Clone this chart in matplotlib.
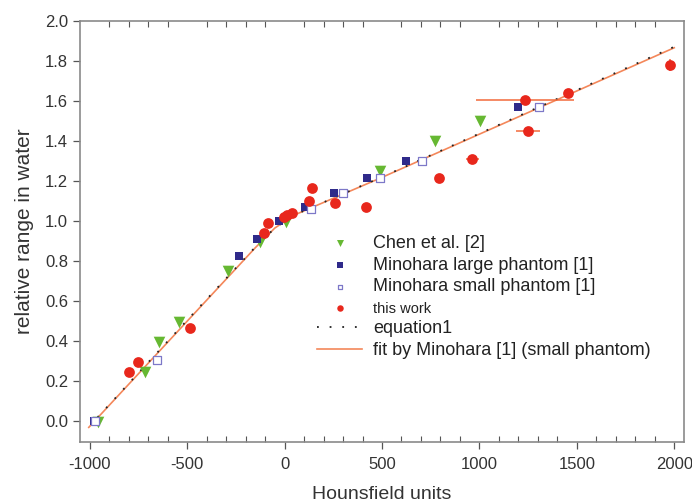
import matplotlib
matplotlib.use('Agg')
from matplotlib import pyplot as plt
from matplotlib.ticker import MultipleLocator, FormatStrFormatter

plt.rcParams['font.family'] = ['Liberation Sans', 'DejaVu Sans']
plt.rcParams['axes.unicode_minus'] = False

# Chen et al. [2]
chen_hu = [-957, -718, -646, -541, -290, -127, 6, 489, 771, 1002]
chen_r = [-0.005, 0.245, 0.395, 0.495, 0.75, 0.895, 0.995, 1.25, 1.40, 1.50]

# Minohara large phantom [1]
large_hu = [-979, -235, -144, -30, 107, 253, 424, 621, 1199]
large_r = [0.0, 0.825, 0.91, 1.0, 1.068, 1.138, 1.216, 1.301, 1.571]

# Minohara small phantom [1]
small_hu = [-975, -654, 134, 300, 492, 706, 1307]
small_r = [0.0, 0.306, 1.06, 1.138, 1.216, 1.301, 1.571]

# this work
work_hu = [-798, -750, -487, -107, -85, -4, 13, 40, 126, 141, 261, 420,
           792, 964, 1233, 1250, 1455, 1977]
work_r = [0.245, 0.296, 0.464, 0.942, 0.992, 1.021, 1.03, 1.041, 1.101, 1.166,
          1.091, 1.071, 1.216, 1.308, 1.604, 1.451, 1.64, 1.779]
work_xerr = [0, 0, 0, 0, 0, 0, 0, 0, 0, 0, 0, 0, 0, 35, 250, 60, 20, 0]
work_yerr = [0, 0, 0, 0, 0, 0, 0, 0, 0, 0, 0, 0, 0.02, 0, 0, 0, 0, 0.03]

# equation1
eq_hu = [-960, -500, -150, -50, 50, 500, 2000]
eq_r = [0.02, 0.505, 0.87, 0.965, 1.03, 1.22, 1.87]

# fit by Minohara [1] (small phantom)
fit_hu = [-1005, -500, -150, -50, 50, 500, 2000]
fit_r = [-0.03, 0.50, 0.867, 0.965, 1.03, 1.218, 1.865]

fig = plt.figure(figsize=(6.92, 5.04), dpi=100)
ax = fig.add_axes([80 / 692, 62 / 504, 604 / 692, 421.3 / 504])

ax.plot(fit_hu, fit_r, color='#f4875a', lw=1.2, zorder=2,
        label='fit by Minohara [1] (small phantom)')
ax.plot(eq_hu, eq_r, color='#222222', lw=1.3, ls=(0, (1, 6)), zorder=3,
        label='equation1')

ax.errorbar(work_hu, work_r, xerr=work_xerr, yerr=work_yerr, fmt='none',
            ecolor='#f26a3a', elinewidth=1.1, zorder=4)

ax.scatter(chen_hu, chen_r, marker='v', s=70, color='#66b832', lw=0,
           zorder=5, label='Chen et al. [2]')
ax.scatter(large_hu, large_r, marker='s', s=38, color='#2f2a8a', lw=0,
           zorder=5, label='Minohara large phantom [1]')
ax.scatter(small_hu, small_r, marker='s', s=34, facecolor='white',
           edgecolor='#7d78c8', lw=0.9, zorder=5,
           label='Minohara small phantom [1]')
ax.scatter(work_hu, work_r, marker='o', s=60, color='#e8271c', lw=0,
           zorder=6, label='this work')

ax.set_xlim(-1050, 2050)
ax.set_ylim(-0.103, 2.0)
ax.xaxis.set_major_locator(MultipleLocator(500))
ax.xaxis.set_minor_locator(MultipleLocator(100))
ax.yaxis.set_major_locator(MultipleLocator(0.2))
ax.yaxis.set_major_formatter(FormatStrFormatter('%.1f'))

ax.tick_params(axis='both', which='major', direction='out', length=5,
               width=0.9, color='#555555', labelsize=12, labelcolor='#333333')
ax.tick_params(axis='x', which='minor', direction='in', length=4, width=0.8,
               color='#555555', top=True, bottom=True)
ax.tick_params(axis='x', which='major', top=False, pad=6)
for sp in ax.spines.values():
    sp.set_color('#8a8a8a')
    sp.set_linewidth(1.2)

ax.set_xlabel('Hounsfield units', fontsize=14, color='#333333', labelpad=10)
ax.set_ylabel('relative range in water', fontsize=15, color='#333333',
              labelpad=8)

handles, labels = ax.get_legend_handles_labels()
order = [2, 3, 4, 5, 1, 0]
leg = ax.legend([handles[i] for i in order], [labels[i] for i in order],
                loc='upper left', bbox_to_anchor=(317 / 692, 1 - 235 / 504),
                bbox_transform=fig.transFigure, frameon=False, fontsize=13,
                handlelength=2.5, handletextpad=0.6, labelspacing=0.26,
                markerscale=0.6, borderpad=0, borderaxespad=0)
for t in leg.get_texts():
    t.set_color('#222222')
leg.get_texts()[3].set_fontsize(10.5)

fig.savefig('out.png', dpi=100)
